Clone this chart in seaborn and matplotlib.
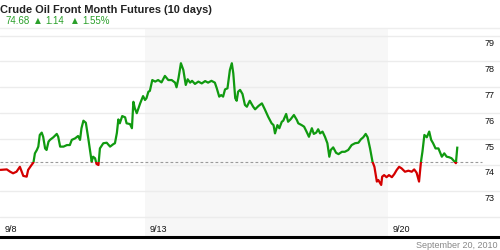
import numpy as np
import pandas as pd
import matplotlib
matplotlib.use("Agg")
import matplotlib.pyplot as plt
import matplotlib.transforms as mtransforms
from matplotlib.patches import Rectangle
import seaborn as sns

# ---- data (time in trading days since 9/8 open, price in USD) ----
times = [0.00, 0.14, 0.21, 0.27, 0.34, 0.41, 0.48, 0.55, 0.58, 0.65, 0.69, 0.72, 0.76, 0.79,
         0.82, 0.86, 0.89, 0.93, 0.96, 1.00, 1.03, 1.10, 1.17, 1.20, 1.24, 1.31, 1.38, 1.44,
         1.48, 1.55, 1.61, 1.65, 1.68, 1.72, 1.77, 1.82, 1.86, 1.89, 1.92, 1.96, 1.99, 2.03,
         2.06, 2.13, 2.20, 2.27, 2.34, 2.37, 2.41, 2.44, 2.47, 2.52, 2.58, 2.61, 2.68, 2.72,
         2.75, 2.78, 2.82, 2.89, 2.95, 2.99, 3.02, 3.06, 3.09, 3.14, 3.20, 3.26, 3.33, 3.40,
         3.47, 3.54, 3.61, 3.64, 3.68, 3.73, 3.78, 3.83, 3.87, 3.92, 3.96, 4.02, 4.09, 4.16,
         4.23, 4.29, 4.36, 4.43, 4.47, 4.52, 4.56, 4.60, 4.64, 4.69, 4.74, 4.78, 4.81, 4.85,
         4.88, 4.91, 4.95, 5.00, 5.05, 5.09, 5.15, 5.22, 5.26, 5.33, 5.40, 5.46, 5.53, 5.60,
         5.64, 5.67, 5.72, 5.76, 5.81, 5.84, 5.90, 5.94, 5.99, 6.06, 6.12, 6.15, 6.22, 6.27,
         6.32, 6.37, 6.43, 6.47, 6.52, 6.56, 6.60, 6.65, 6.70, 6.75, 6.79, 6.82, 6.87, 6.93,
         6.98, 7.05, 7.11, 7.18, 7.25, 7.32, 7.39, 7.44, 7.49, 7.54, 7.58, 7.63, 7.68, 7.72,
         7.77, 7.80, 7.86, 7.88, 7.92, 7.97, 8.02, 8.08, 8.13, 8.18, 8.23, 8.28, 8.35, 8.42,
         8.49, 8.54, 8.59, 8.64, 8.68, 8.71, 8.75, 8.80, 8.85, 8.89, 8.93, 8.98, 9.04, 9.11,
         9.16, 9.21, 9.26, 9.31, 9.37, 9.40, 9.43]
prices = [73.81, 73.83, 73.74, 73.68, 73.74, 73.93, 73.58, 73.55, 73.81, 74.00, 74.10, 74.45, 74.58, 74.71,
          75.16, 75.25, 75.09, 74.64, 74.58, 74.90, 74.97, 75.07, 75.20, 75.09, 74.71, 74.71, 74.77, 74.77,
          74.97, 75.03, 75.12, 74.97, 75.42, 75.71, 75.63, 75.03, 74.51, 74.13, 74.32, 74.26, 74.04, 74.00,
          74.64, 74.84, 74.86, 74.71, 74.81, 74.84, 75.24, 75.76, 75.61, 75.89, 75.84, 75.61, 75.58, 75.42,
          76.44, 76.19, 76.00, 76.38, 76.66, 76.51, 76.58, 76.83, 76.86, 77.28, 77.22, 77.28, 77.19, 77.44,
          77.28, 77.28, 77.18, 77.00, 77.35, 77.93, 77.67, 77.09, 77.31, 77.18, 77.25, 77.13, 77.22, 77.15,
          77.24, 77.18, 77.25, 77.18, 76.96, 76.64, 76.70, 76.64, 76.92, 76.96, 77.67, 77.93, 77.54, 76.58,
          76.48, 76.83, 76.90, 76.74, 76.32, 76.25, 76.48, 76.25, 76.15, 76.28, 76.38, 76.15, 75.86, 75.61,
          75.54, 75.22, 75.54, 75.42, 75.67, 75.71, 75.97, 75.67, 75.76, 75.93, 75.74, 75.61, 75.54, 75.48,
          75.29, 75.09, 75.42, 75.20, 75.25, 75.38, 75.22, 75.29, 75.09, 74.84, 74.32, 74.58, 74.68, 74.47,
          74.42, 74.51, 74.51, 74.58, 74.77, 74.84, 74.86, 74.99, 75.07, 75.20, 75.07, 74.64, 74.13, 73.93,
          73.36, 73.42, 73.23, 73.55, 73.61, 73.53, 73.61, 73.53, 73.65, 73.81, 73.93, 73.87, 73.74, 73.78,
          73.74, 73.83, 73.70, 73.36, 74.13, 74.51, 75.16, 75.07, 75.29, 74.97, 74.84, 74.64, 74.64, 74.32,
          74.45, 74.32, 74.30, 74.26, 74.13, 74.07, 74.71]

base_price = 74.10
last_price = "74.68"
change = "1.14"
change_pct = "1.55%"
title = "Crude Oil Front Month Futures (10 days)"
date_text = "September 20, 2010"

day_ticks = [0, 3, 8]
day_labels = ["9/8", "9/13", "9/20"]
shade_start, shade_end = 3, 8
y_ticks = [72, 73, 74, 75, 76, 77, 78, 79]
y_labels = ["", "73", "74", "75", "76", "77", "78", "79"]

GREEN = "#109a10"
RED = "#d40000"
TXT_GREEN = "#2aa02a"

sns.set_style("white")
plt.rcParams["font.family"] = ["Liberation Sans", "DejaVu Sans"]

fig = plt.figure(figsize=(5, 2.5), dpi=100)
ax = fig.add_axes([0, 13 / 250, 1, 209 / 250])

df = pd.DataFrame({"t": times, "p": prices})

ax.axvspan(shade_start, shade_end, color="#f7f7f7", zorder=0, lw=0)

sns.lineplot(data=df, x="t", y="p", ax=ax, color=GREEN, lw=1.6, sort=False,
             estimator=None, zorder=3)
sns.lineplot(data=df, x="t", y="p", ax=ax, color=RED, lw=1.6, sort=False,
             estimator=None, zorder=3)
ax.set_xlim(0, 500 / 48.5)
ax.set_ylim(74 - 72 / 25.9, 74 + 137 / 25.9)

g_line, r_line = ax.lines[-2], ax.lines[-1]
g_line.set_clip_path(Rectangle((-1, base_price), 20, 20, transform=ax.transData))
r_line.set_clip_path(Rectangle((-1, base_price - 20), 20, 20, transform=ax.transData))
g_line.set_solid_capstyle("butt")
r_line.set_solid_capstyle("butt")

ax.axhline(base_price, xmin=0, xmax=482 / 500, color="#9a9a9a", lw=0.8,
           ls=(0, (2.5, 2)), zorder=2)

ax.set_yticks(y_ticks)
ax.set_yticklabels(y_labels)
ax.yaxis.tick_right()
ax.tick_params(axis="y", length=0, pad=-11, labelsize=6.5, labelcolor="#111111")
off_y = mtransforms.ScaledTranslation(0, -2.5 / 72, fig.dpi_scale_trans)
for lab in ax.get_yticklabels():
    lab.set_ha("left")
    lab.set_va("top")
    lab.set_transform(lab.get_transform() + off_y)

ax.set_xticks(day_ticks)
ax.set_xticklabels(day_labels)
ax.tick_params(axis="x", length=0, pad=0, labelsize=6.5, labelcolor="#111111")
off_x = mtransforms.ScaledTranslation(3 / 72, 5.5 / 72, fig.dpi_scale_trans)
for lab in ax.get_xticklabels():
    lab.set_ha("left")
    lab.set_va("center")
    lab.set_transform(lab.get_transform() + off_x)

ax.grid(axis="y", color="#ececec", lw=1)
ax.grid(axis="x", visible=False)
ax.set_axisbelow(True)
ax.set_xlabel("")
ax.set_ylabel("")
for s in ["left", "right"]:
    ax.spines[s].set_visible(False)
ax.spines["top"].set_color("#eeeeee")
ax.spines["top"].set_linewidth(1)
ax.spines["bottom"].set_color("black")
ax.spines["bottom"].set_linewidth(2.2)

fig.text(0.0, 1 - 10 / 250, title, fontsize=7.9, fontweight="bold", va="center",
         ha="left", color="#222222")
ty = 1 - 21 / 250
fig.text(5.5 / 500, ty, last_price, fontsize=7, color=TXT_GREEN, va="center", ha="left")
fig.text(35 / 500, ty, "▲", fontsize=5.5, color=TXT_GREEN, va="center", ha="left",
         family=["DejaVu Sans"])
fig.text(45 / 500, ty, change, fontsize=7, color=TXT_GREEN, va="center", ha="left")
fig.text(72 / 500, ty, "▲", fontsize=5.5, color=TXT_GREEN, va="center", ha="left",
         family=["DejaVu Sans"])
fig.text(82 / 500, ty, change_pct, fontsize=7, color=TXT_GREEN, va="center", ha="left")

fig.text(497 / 500, 1 - 245 / 250, date_text, fontsize=6.5, color="#888888",
         va="center", ha="right")

fig.savefig("out.png", dpi=100)
